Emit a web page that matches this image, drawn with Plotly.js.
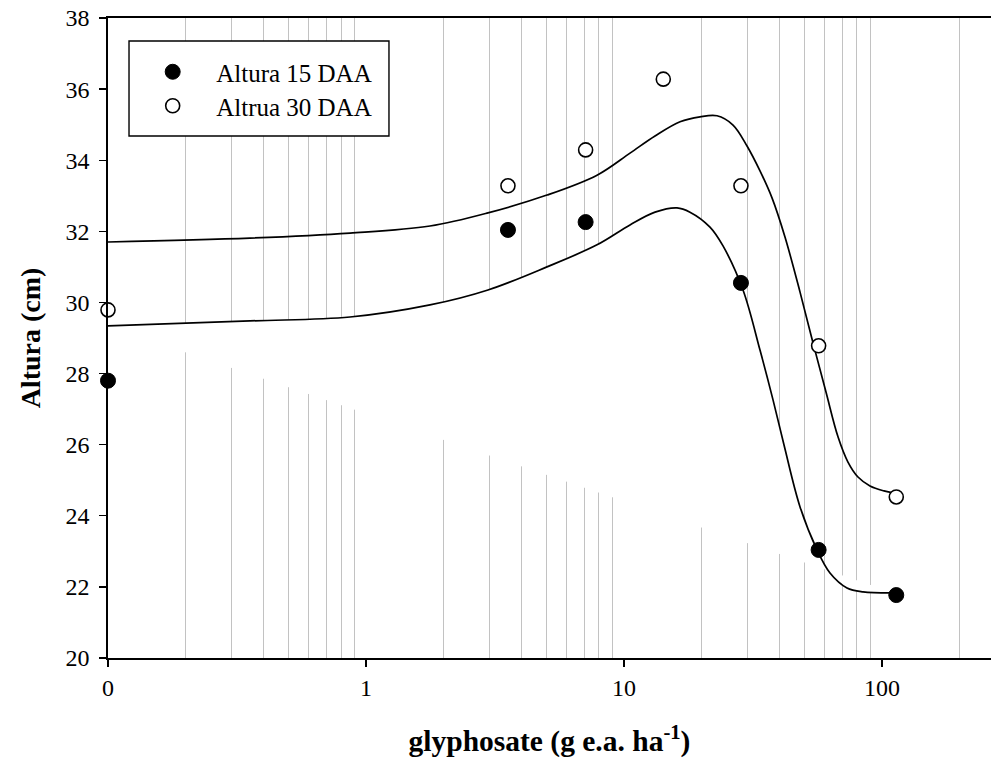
<!DOCTYPE html>
<html>
<head>
<meta charset="utf-8">
<script src="https://cdn.plot.ly/plotly-3.0.1.min.js"></script>
<style>html,body{margin:0;padding:0;background:#fff;}#chart{width:991px;height:768px;}</style>
</head>
<body>
<div id="chart"></div>
<script>
// Observed data (dose 0 plotted at 0.1 on the log axis)
const doses15 = [0.1, 3.55, 7.1, 28.4, 56.8, 113.6];
const altura15 = [27.8, 32.04, 32.26, 30.55, 23.04, 21.77];
const doses30 = [0.1, 3.55, 7.1, 14.2, 28.4, 56.8, 113.6];
const altura30 = [29.79, 33.28, 34.29, 36.28, 33.28, 28.78, 24.53];

// Fitted curves
const fit15X = [0.1, 0.355, 0.867, 1.77, 2.97, 5.03, 7.86, 10.55, 13.19, 16.05, 18.02, 21.54, 24.2, 28.93, 33.66, 37.81, 41.71, 48.12, 56.01, 62.86, 73.17, 84.4, 111.3];
const fit15Y = [29.34, 29.48, 29.59, 29.93, 30.35, 31.0, 31.62, 32.18, 32.54, 32.66, 32.54, 32.12, 31.59, 30.35, 28.66, 27.26, 25.99, 24.25, 23.04, 22.39, 21.97, 21.86, 21.83];
const fit30X = [0.1, 0.355, 0.867, 1.77, 2.97, 5.03, 7.86, 10.55, 13.19, 16.49, 19.71, 22.94, 26.46, 29.98, 33.66, 37.47, 42.07, 48.12, 54.04, 60.66, 67.52, 73.8, 80.7, 89.85, 101.8, 111.3];
const fit30Y = [31.7, 31.81, 31.95, 32.15, 32.52, 33.02, 33.58, 34.2, 34.68, 35.08, 35.22, 35.25, 34.99, 34.4, 33.7, 32.94, 31.84, 30.29, 28.86, 27.48, 26.22, 25.51, 25.09, 24.84, 24.7, 24.64];

const xTickVals = [0.1, 1, 10, 100];
const xTickText = ['0', '1', '10', '100'];
const xMinorVals = [0.2,0.3,0.4,0.5,0.6,0.7,0.8,0.9, 2,3,4,5,6,7,8,9, 20,30,40,50,60,70,80,90, 200];
const yTickVals = [20, 22, 24, 26, 28, 30, 32, 34, 36, 38];
const legendNames = ['Altura 15 DAA', 'Altrua 30 DAA'];

const FONT = 'Liberation Serif, serif';

const traces = [
  // white area under the lower fitted curve (hides grid lines, as in the original)
  {x: fit15X, y: fit15Y, type: 'scatter', mode: 'lines', fill: 'toself', fillcolor: '#ffffff',
   line: {width: 0, shape: 'spline', smoothing: 1, color: 'rgba(0,0,0,0)'}, showlegend: false, hoverinfo: 'skip'},
  {x: fit15X, y: fit15Y, type: 'scatter', mode: 'lines', line: {color: '#000', width: 1.7, shape: 'spline', smoothing: 1},
   showlegend: false, hoverinfo: 'skip'},
  {x: fit30X, y: fit30Y, type: 'scatter', mode: 'lines', line: {color: '#000', width: 1.7, shape: 'spline', smoothing: 1},
   showlegend: false, hoverinfo: 'skip'},
  {x: doses15, y: altura15, type: 'scatter', mode: 'markers', name: legendNames[0], cliponaxis: false, legend: 'legend',
   marker: {symbol: 'circle', size: 15, color: '#000', line: {color: '#000', width: 1}}},
  {x: doses30, y: altura30, type: 'scatter', mode: 'markers', name: legendNames[1], cliponaxis: false, legend: 'legend2',
   marker: {symbol: 'circle', size: 14, color: '#fff', line: {color: '#000', width: 1.6}}},
  // dummy for minor gridline axis
  {x: [0.1], y: [20], xaxis: 'x2', type: 'scatter', mode: 'markers', marker: {opacity: 0}, showlegend: false, hoverinfo: 'skip'}
];

const legendStyle = {
  xanchor: 'left', yanchor: 'middle', x: 0.024,
  bgcolor: 'rgba(0,0,0,0)', borderwidth: 0,
  font: {family: FONT, size: 25, color: '#000'},
  itemwidth: 77
};

const layout = {
  width: 991, height: 768,
  margin: {l: 108, r: 0, t: 18, b: 110},
  paper_bgcolor: '#fff', plot_bgcolor: 'rgba(0,0,0,0)',
  font: {family: FONT, size: 24, color: '#000'},
  showlegend: true,
  legend: Object.assign({}, legendStyle, {y: 0.9156}),
  legend2: Object.assign({}, legendStyle, {y: 0.8625}),
  shapes: [{
    type: 'rect', xref: 'paper', yref: 'paper', layer: 'above',
    x0: 0.0238, x1: 0.3182, y0: 0.8156, y1: 0.9641,
    line: {color: '#000', width: 1.4}, fillcolor: '#fff'
  }],
  xaxis: {
    type: 'log', range: [-1, 2.4225],
    tickmode: 'array', tickvals: xTickVals, ticktext: xTickText,
    ticks: 'outside', ticklen: 7, tickwidth: 1.3, tickcolor: '#000',
    showgrid: false, zeroline: false,
    showline: true, linecolor: '#000', linewidth: 1.8, mirror: true,
    tickfont: {family: FONT, size: 24},
    title: {text: '<b>glyphosate (g e.a. ha<sup>-1</sup>)</b>', font: {family: FONT, size: 29.5}, standoff: 31}
  },
  xaxis2: {
    type: 'log', range: [-1, 2.4225], overlaying: 'x', anchor: 'y',
    tickmode: 'array', tickvals: xMinorVals, showticklabels: false, ticks: '',
    showgrid: true, gridcolor: '#c2c2c2', gridwidth: 1, zeroline: false, showline: false,
    layer: 'below traces'
  },
  yaxis: {
    range: [20, 38], tickmode: 'array', tickvals: yTickVals,
    ticks: 'outside', ticklen: 7, tickwidth: 1.3, tickcolor: '#000',
    showgrid: false, zeroline: false,
    showline: true, linecolor: '#000', linewidth: 1.8,
    tickfont: {family: FONT, size: 24}, ticklabelstandoff: 5,
    title: {text: '<b>Altura (cm)</b>', font: {family: FONT, size: 28}, standoff: 17}
  }
};

Plotly.newPlot('chart', traces, layout, {displayModeBar: false, staticPlot: true});
</script>
</body>
</html>
